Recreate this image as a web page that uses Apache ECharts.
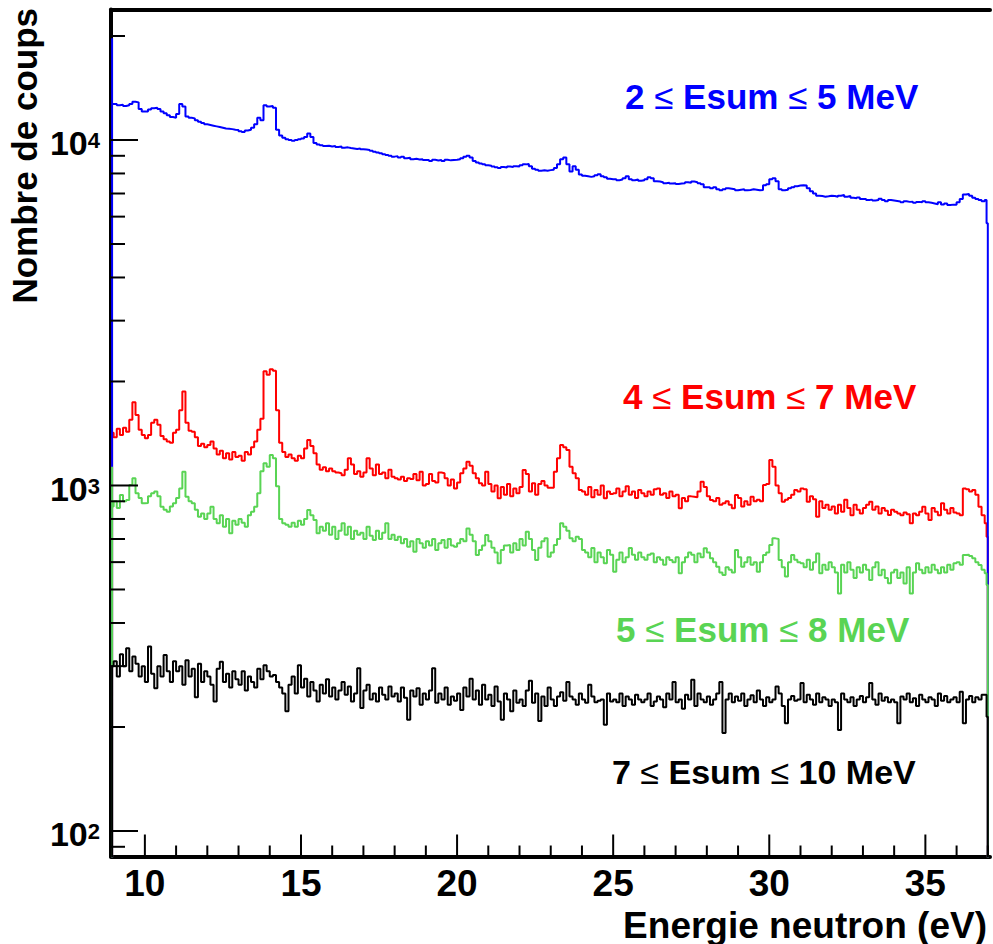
<!DOCTYPE html>
<html>
<head>
<meta charset="utf-8">
<script src="https://cdn.jsdelivr.net/npm/echarts@6/dist/echarts.min.js"></script>
<style>
html,body{margin:0;padding:0;background:#fff;}
#chart{width:993px;height:944px;}
</style>
</head>
<body>
<div id="chart"></div>
<script>
// ---- axis ranges ----
var X_MIN = 8.915, X_MAX = 37.07;
var Y_MIN = 84.36, Y_MAX = 23860;

// ---- tick positions / labels ----
var xMajorTicks = [10, 15, 20, 25, 30, 35];
var xMinorTicks = [11, 12, 13, 14, 16, 17, 18, 19, 21, 22, 23, 24, 26, 27, 28, 29, 31, 32, 33, 34, 36, 37];
var yMajorTicks = [100, 1000, 10000];
var yMinorTicks = [90, 200, 300, 400, 500, 600, 700, 800, 900, 2000, 3000, 4000, 5000, 6000, 7000, 8000, 9000, 20000];

// ---- histogram binning (energy, eV) ----
var firstEdge = 8.95;   // left edge of first (partial) bin
var binStart = 9.0;     // first full bin low edge
var binWidth = 0.1;
var tailEdge = 36.96;   // last partial bin low edge
var lastEdge = 37.0;    // upper edge of histogram

// ---- series labels ----
var labelBlue = "2 ≤ Esum ≤ 5 MeV";
var labelRed = "4 ≤ Esum ≤ 7 MeV";
var labelGreen = "5 ≤ Esum ≤ 8 MeV";
var labelBlack = "7 ≤ Esum ≤ 10 MeV";

// ---- 2 <= Esum <= 5 MeV (blue) ----
var blueSpike = 19700, blueFirst = 12700, blueTail = 5740;
var blueCounts = [
 12700,12600,12650,12550,12600,12700,12900,12850,12300,12100,
 12100,12250,12350,12400,12300,12100,11950,11800,11650,11600,
 11900,12700,12500,11700,11600,11550,11400,11300,11200,11100,
 11050,11000,10950,10900,10850,10800,10780,10750,10700,10680,
 10600,10550,10650,10700,10850,11100,11600,11400,12600,12500,
 12550,12400,10700,10300,10150,10050,10000,9950,10000,10050,
 10100,10200,10450,10200,9800,9700,9650,9600,9620,9580,
 9600,9550,9570,9500,9520,9480,9450,9420,9450,9400,
 9380,9350,9300,9250,9200,9150,9100,9050,9000,8950,
 8980,8900,8950,8850,8880,8800,8820,8780,8800,8750,
 8750,8700,8760,8720,8750,8700,8760,8730,8750,8760,
 8800,8850,8950,9000,8900,8700,8600,8550,8500,8450,
 8420,8380,8340,8300,8350,8330,8380,8350,8400,8380,
 8450,8500,8520,8400,8250,8200,8150,8170,8150,8180,
 8200,8300,8500,8800,8900,8500,8100,8400,8200,7950,
 7880,7850,7820,7850,7900,7960,7850,7800,7720,7700,
 7700,7650,7680,7750,7850,7700,7650,7680,7620,7650,
 7700,7800,7750,7600,7580,7550,7500,7520,7480,7500,
 7460,7480,7500,7550,7520,7580,7550,7500,7450,7300,
 7300,7250,7300,7200,7150,7200,7250,7230,7200,7150,
 7180,7200,7150,7170,7200,7180,7150,7170,7400,7450,
 7700,7750,7600,7200,7150,7180,7250,7300,7350,7380,
 7400,7380,7250,7100,7000,6900,6880,6850,6870,6900,
 6880,6850,6900,6930,6850,6880,6800,6780,6820,6750,
 6750,6700,6720,6680,6700,6760,6700,6650,6700,6680,
 6660,6640,6600,6650,6620,6630,6580,6620,6600,6650,
 6600,6580,6550,6520,6600,6500,6550,6480,6500,6490,
 6600,6750,6950,6980,6900,6800,6750,6700,6650,6700
];

// ---- 4 <= Esum <= 7 MeV (red) ----
var redSpike = 1420, redFirst = 1420, redTail = 711;
var redCounts = [
 1380,1460,1400,1470,1430,1550,1740,1600,1450,1400,
 1370,1400,1520,1550,1500,1390,1360,1340,1330,1420,
 1450,1650,1870,1520,1440,1430,1380,1300,1320,1290,
 1310,1340,1280,1230,1260,1200,1240,1190,1250,1210,
 1220,1180,1250,1230,1290,1340,1450,1560,2140,2090,
 2170,2150,1650,1330,1250,1210,1230,1200,1180,1220,
 1200,1280,1354,1300,1240,1150,1110,1130,1100,1120,
 1100,1090,1085,1070,1110,1200,1150,1080,1100,1060,
 1090,1200,1120,1070,1150,1080,1090,1050,1110,1060,
 1050,1040,1060,1030,1050,1045,1080,1035,1096,1000,
 1010,1080,1030,1020,1090,1085,1050,1000,1040,980,
 1020,1085,1120,1172,1140,1085,1050,1015,1000,1096,
 1010,960,1000,918,990,940,1010,930,980,950,
 990,1109,1080,960,1015,940,1010,1030,1000,985,
 985,1096,1200,1310,1290,1267,1133,1085,1050,970,
 960,940,990,925,970,940,1000,918,960,945,
 950,980,930,960,995,940,960,920,970,950,
 930,960,940,975,980,940,950,920,960,930,
 940,859,920,900,930,928,925,960,1025,990,
 930,908,900,920,880,888,900,880,859,939,
 920,870,900,880,928,900,910,900,1003,1010,
 1185,1133,1000,950,898,910,920,940,970,960,
 980,975,898,930,912,812,900,860,880,850,
 870,830,880,840,910,860,820,880,850,830,
 860,880,898,850,870,830,860,845,821,850,
 840,830,820,835,825,778,830,820,840,868,
 830,795,860,840,820,888,850,830,860,835,
 830,820,980,975,960,970,940,868,820,778
];

// ---- 5 <= Esum <= 8 MeV (green) ----
var greenSpike = 1133, greenFirst = 870, greenTail = 515;
var greenCounts = [
 900,860,939,900,908,1003,1049,950,920,888,
 890,930,950,960,930,868,850,840,870,888,
 920,980,1096,928,900,888,850,812,830,800,
 830,868,800,778,820,760,800,727,790,770,
 800,780,760,820,840,868,950,1100,1160,1133,
 1225,1200,995,800,778,770,760,780,760,790,
 770,800,849,820,795,727,760,740,778,720,
 760,700,740,778,720,760,700,740,720,730,
 700,760,715,695,740,700,730,778,700,720,
 695,710,680,700,665,690,643,700,680,660,
 690,670,700,650,680,695,660,700,670,665,
 680,700,690,751,720,690,629,650,670,719,
 690,660,640,596,650,670,673,640,680,650,
 700,670,735,700,650,609,660,690,703,622,
 640,673,700,778,760,740,703,690,711,700,
 651,640,620,659,600,640,620,596,650,630,
 563,610,640,600,620,659,630,610,640,620,
 610,630,636,600,620,610,590,620,609,600,
 620,557,600,620,640,630,600,636,620,658,
 640,616,600,582,560,551,580,570,560,651,
 620,582,600,620,590,600,563,600,629,640,
 673,703,700,609,580,545,600,629,610,600,
 596,580,610,570,600,636,557,590,570,600,
 580,560,487,590,560,600,570,540,580,560,
 590,570,533,580,600,550,570,540,521,560,
 570,540,560,520,580,487,560,596,570,557,
 580,560,590,570,557,580,560,590,570,596,
 600,590,629,630,625,616,600,589,570,557
];

// ---- 7 <= Esum <= 10 MeV (black) ----
var blackSpike = 265, blackFirst = 300, blackTail = 214;
var blackCounts = [
 310,280,325,300,338,290,320,305,280,300,
 270,342,285,259,300,280,323,290,270,310,
 290,300,265,312,280,295,244,305,270,290,
 280,265,237,295,309,270,285,260,290,275,
 265,290,255,280,270,260,295,275,302,290,
 280,283,270,260,250,222,265,280,250,302,
 260,276,245,270,255,237,265,250,275,245,
 260,240,255,270,248,262,237,250,296,227,
 255,265,240,250,237,260,248,240,262,245,
 250,237,260,243,210,255,245,259,232,250,
 240,255,296,235,250,240,260,232,245,238,
 250,224,260,245,276,240,255,232,265,240,
 248,230,262,237,210,250,240,222,255,235,
 240,230,255,272,235,250,208,245,230,260,
 240,230,245,252,238,270,245,240,232,250,
 240,235,265,245,236,238,240,203,250,237,
 240,236,250,230,245,240,232,248,240,236,
 240,250,230,237,245,240,228,250,240,270,
 236,240,226,248,240,274,230,250,240,236,
 245,232,240,250,270,192,240,250,236,245,
 238,250,230,240,247,236,255,240,230,244,
 236,240,262,250,230,205,240,246,238,240,
 268,236,248,240,232,250,236,244,240,230,
 240,236,196,250,240,236,244,230,240,246,
 236,244,268,240,232,250,238,244,236,240,
 236,205,245,240,250,236,242,230,248,240,
 236,244,240,230,250,238,246,236,240,244,
 236,253,205,240,246,236,244,240,248,248
];

var FLOOR = 50; // below the axis: histogram outline starts / ends at the frame
var FONT = "'Liberation Sans', Arial, Helvetica, sans-serif";

function histPoints(spike, first, counts, tail) {
  var pts = [[firstEdge, FLOOR], [firstEdge, spike], [firstEdge, first]];
  for (var i = 0; i < counts.length; i++) {
    pts.push([Math.round((binStart + i * binWidth) * 100) / 100, counts[i]]);
  }
  pts.push([tailEdge, tail], [lastEdge, tail], [lastEdge, FLOOR]);
  return pts;
}

function histSeries(name, color, pts) {
  return {
    name: name, type: 'line', step: 'end', data: pts,
    showSymbol: false, symbol: 'none', silent: true, animation: false,
    lineStyle: { color: color, width: 2 }, clip: true, z: 3
  };
}

var tickData = [];
xMajorTicks.forEach(function (t) { tickData.push([t, Y_MIN, 22, 0]); });
xMinorTicks.forEach(function (t) { tickData.push([t, Y_MIN, 11, 0]); });
yMajorTicks.forEach(function (t) { tickData.push([X_MIN, t, 27, 1]); });
yMinorTicks.forEach(function (t) { tickData.push([X_MIN, t, 14, 1]); });

var chart = echarts.init(document.getElementById('chart'), null, { renderer: 'svg' });

function annot(text, x, y, color, size) {
  var parts = text.split('≤');
  var rich = '';
  for (var i = 0; i < parts.length; i++) {
    if (i > 0) rich += '{n|≤}';
    rich += '{b|' + parts[i] + '}';
  }
  return {
    type: 'text', x: x, y: y, z: 10, silent: true,
    style: {
      text: rich, fill: color, align: 'left', verticalAlign: 'middle',
      rich: {
        b: { fontSize: size, fontWeight: 'bold', fontFamily: FONT, fill: color },
        n: { fontSize: size, fontWeight: 'normal', fontFamily: FONT, fill: color }
      }
    }
  };
}

var option = {
  animation: false,
  backgroundColor: '#ffffff',
  grid: { left: 111, right: 0, top: 9.5, bottom: 87.5, containLabel: false },
  xAxis: [{
    type: 'value', min: X_MIN, max: X_MAX, position: 'bottom',
    axisLine: { show: true, onZero: false, lineStyle: { color: '#000', width: 4 } },
    axisTick: { show: false }, splitLine: { show: false },
    axisLabel: {
      margin: 8, color: '#000', fontSize: 37, lineHeight: 37, fontWeight: 'bold', fontFamily: FONT,
      formatter: function (v) {
        for (var i = 0; i < xMajorTicks.length; i++) {
          if (Math.abs(v - xMajorTicks[i]) < 1e-6) return String(xMajorTicks[i]);
        }
        return '';
      }
    }
  }, {
    type: 'value', min: X_MIN, max: X_MAX, position: 'top',
    axisLine: { show: true, onZero: false, lineStyle: { color: '#000', width: 4 } },
    axisTick: { show: false }, splitLine: { show: false }, axisLabel: { show: false }
  }],
  yAxis: {
    type: 'log', logBase: 10, min: Y_MIN, max: Y_MAX,
    axisLine: { show: true, onZero: false, lineStyle: { color: '#000', width: 4 } },
    axisTick: { show: false }, splitLine: { show: false }, minorTick: { show: false },
    axisLabel: {
      margin: 11, color: '#000',
      formatter: function (v) {
        var e = Math.log10(v), r = Math.round(e);
        if (Math.abs(e - r) > 1e-6) return '';
        if (yMajorTicks.indexOf(Math.pow(10, r)) < 0) return '';
        return '{b|10}{s|' + r + '}';
      },
      rich: {
        b: { fontSize: 34, fontWeight: 'bold', fontFamily: FONT, color: '#000', lineHeight: 34, padding: [7, 0, 0, 0] },
        s: { fontSize: 22, fontWeight: 'bold', fontFamily: FONT, color: '#000', lineHeight: 12, verticalAlign: 'top', padding: [7, 0, 0, 0] }
      }
    }
  },
  series: [
    histSeries(labelRed, '#ff0000', histPoints(redSpike, redFirst, redCounts, redTail)),
    histSeries(labelBlue, '#0000ff', histPoints(blueSpike, blueFirst, blueCounts, blueTail)),
    histSeries(labelGreen, '#59d454', histPoints(greenSpike, greenFirst, greenCounts, greenTail)),
    histSeries(labelBlack, '#000000', histPoints(blackSpike, blackFirst, blackCounts, blackTail)),
    {
      type: 'custom', name: 'ticks', silent: true, animation: false, z: 4,
      encode: { x: 0, y: 1 },
      data: tickData,
      renderItem: function (params, api) {
        var p = api.coord([api.value(0), api.value(1)]);
        var len = api.value(2);
        var shape = api.value(3) === 0
          ? { x1: p[0], y1: p[1], x2: p[0], y2: p[1] - len }
          : { x1: p[0], y1: p[1], x2: p[0] + len, y2: p[1] };
        return { type: 'line', shape: shape, style: { stroke: '#000', lineWidth: 2 } };
      }
    }
  ],
  graphic: [
    {
      type: 'text', x: 24, y: 8, rotation: Math.PI / 2, silent: true,
      style: {
        text: 'Nombre de coups', fill: '#000', align: 'right', verticalAlign: 'middle',
        fontSize: 35, fontWeight: 'bold', fontFamily: FONT
      }
    },
    {
      type: 'text', x: 987, y: 925, silent: true,
      style: {
        text: 'Energie neutron (eV)', fill: '#000', align: 'right', verticalAlign: 'middle',
        fontSize: 37, fontWeight: 'bold', fontFamily: FONT
      }
    },
    annot(labelBlue, 625, 96, '#0000ff', 35),
    annot(labelRed, 623, 396, '#ff0000', 35),
    annot(labelGreen, 616, 629, '#59d454', 35),
    annot(labelBlack, 612, 772, '#000000', 34)
  ]
};
chart.setOption(option);
</script>
</body>
</html>
